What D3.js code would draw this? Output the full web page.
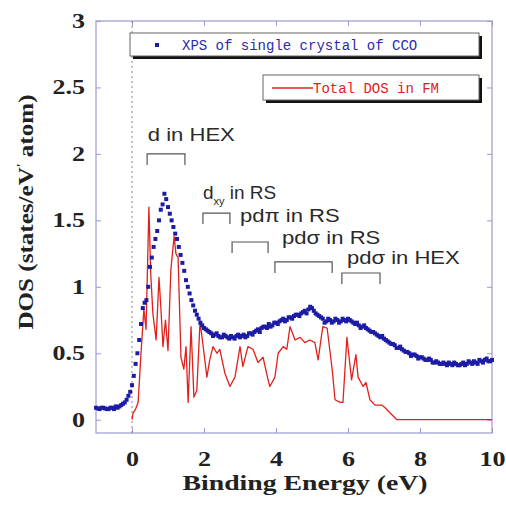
<!DOCTYPE html>
<html>
<head>
<meta charset="utf-8">
<script src="https://d3js.org/d3.v7.min.js"></script>
<style>
	body { margin: 0; background: white; }
	.axis text { font-family: "Liberation Serif", "Times New Roman", serif; font-weight: bold; font-size: 20px; fill: #222; }
	.axis line { stroke: #9a9ad0; }
	.axis path { display: none; }
	.anno { font-family: "Liberation Sans", Arial, sans-serif; font-size: 19px; fill: #2a2a2a; }
	.legend-text { font-family: "Liberation Mono", "Courier New", monospace; font-size: 14px; }
</style>
</head>
<body>
<script>
// XPS of single crystal of CCO: [binding energy (eV), DOS]
var xpsPoints = [
	[-1.0,0.09],[-0.9,0.08],[-0.8,0.09],[-0.7,0.08],[-0.6,0.09],[-0.5,0.08],[-0.4,0.09],[-0.3,0.11],[-0.2,0.13],[-0.1,0.18],
	[0.0,0.26],[0.1,0.42],[0.2,0.60],[0.3,0.84],[0.4,0.90],[0.5,1.15],[0.6,1.30],[0.7,1.42],[0.8,1.58],[0.9,1.70],
	[1.0,1.60],[1.1,1.50],[1.2,1.40],[1.3,1.30],[1.4,1.18],[1.5,1.05],[1.6,0.95],[1.7,0.86],[1.8,0.79],[1.9,0.73],
	[2.0,0.69],[2.1,0.67],[2.2,0.65],[2.3,0.64],[2.4,0.63],[2.5,0.62],[2.6,0.63],[2.7,0.61],[2.8,0.62],[2.9,0.63],
	[3.0,0.62],[3.1,0.64],[3.2,0.63],[3.3,0.65],[3.4,0.66],[3.5,0.68],[3.6,0.69],[3.7,0.70],[3.8,0.72],[3.9,0.71],
	[4.0,0.73],[4.1,0.74],[4.2,0.76],[4.3,0.75],[4.4,0.77],[4.5,0.78],[4.6,0.79],[4.7,0.80],[4.8,0.82],[4.9,0.83],
	[5.0,0.84],[5.1,0.80],[5.2,0.78],[5.3,0.76],[5.4,0.74],[5.5,0.75],[5.6,0.74],[5.7,0.75],[5.8,0.74],[5.9,0.75],
	[6.0,0.76],[6.1,0.74],[6.2,0.72],[6.3,0.71],[6.4,0.70],[6.5,0.69],[6.6,0.67],[6.7,0.66],[6.8,0.64],[6.9,0.62],
	[7.0,0.61],[7.1,0.59],[7.2,0.57],[7.3,0.56],[7.4,0.54],[7.5,0.53],[7.6,0.51],[7.7,0.50],[7.8,0.49],[7.9,0.48],
	[8.0,0.47],[8.1,0.46],[8.2,0.45],[8.3,0.45],[8.4,0.43],[8.5,0.43],[8.6,0.42],[8.7,0.42],[8.8,0.43],[8.9,0.41],
	[9.0,0.42],[9.1,0.41],[9.2,0.43],[9.3,0.42],[9.4,0.43],[9.5,0.44],[9.6,0.42],[9.7,0.44],[9.8,0.45],[9.9,0.44],
	[10.0,0.45]
];

// XPS points read between the ones above
var xpsPointsHalf = [
	[-0.95,0.085],[-0.85,0.09],[-0.75,0.085],[-0.65,0.08],[-0.55,0.09],[-0.45,0.10],[-0.35,0.10],[-0.25,0.12],[-0.15,0.15],[-0.05,0.21],
	[0.05,0.33],[0.15,0.50],[0.25,0.72],[0.35,0.88],[0.45,1.00],[0.55,1.22],[0.65,1.36],[0.75,1.50],[0.85,1.62],[0.95,1.66],
	[1.05,1.55],[1.15,1.45],[1.25,1.36],[1.35,1.24],[1.45,1.12],[1.55,1.00],[1.65,0.90],[1.75,0.82],[1.85,0.76],[1.95,0.71],
	[2.05,0.68],[2.15,0.66],[2.25,0.63],[2.35,0.65],[2.45,0.62],[2.55,0.64],[2.65,0.62],[2.75,0.63],[2.85,0.61],[2.95,0.64],
	[3.05,0.63],[3.15,0.62],[3.25,0.65],[3.35,0.64],[3.45,0.67],[3.55,0.66],[3.65,0.70],[3.75,0.69],[3.85,0.70],[3.95,0.73],
	[4.05,0.72],[4.15,0.75],[4.25,0.74],[4.35,0.77],[4.45,0.76],[4.55,0.79],[4.65,0.78],[4.75,0.81],[4.85,0.80],[4.95,0.85],
	[5.05,0.82],[5.15,0.79],[5.25,0.77],[5.35,0.73],[5.45,0.76],[5.55,0.73],[5.65,0.76],[5.75,0.73],[5.85,0.76],[5.95,0.74],
	[6.05,0.75],[6.15,0.73],[6.25,0.73],[6.35,0.69],[6.45,0.71],[6.55,0.68],[6.65,0.66],[6.75,0.65],[6.85,0.63],[6.95,0.63],
	[7.05,0.60],[7.15,0.58],[7.25,0.57],[7.35,0.54],[7.45,0.55],[7.55,0.52],[7.65,0.51],[7.75,0.48],[7.85,0.49],[7.95,0.46],
	[8.05,0.47],[8.15,0.45],[8.25,0.46],[8.35,0.43],[8.45,0.44],[8.55,0.42],[8.65,0.43],[8.75,0.41],[8.85,0.42],[8.95,0.43],
	[9.05,0.41],[9.15,0.42],[9.25,0.41],[9.35,0.44],[9.45,0.42],[9.55,0.43],[9.65,0.45],[9.75,0.43],[9.85,0.46],[9.95,0.44]
];

// Total DOS in FM: [binding energy (eV), DOS]
var dosPoints = [
	[0.0,0.0],[0.03,0.05],[0.10,0.08],[0.17,0.13],[0.25,0.5],[0.33,0.83],[0.39,0.68],[0.47,1.6],[0.52,1.1],[0.58,0.8],
	[0.67,0.6],[0.75,1.07],[0.80,0.85],[0.86,0.55],[0.93,0.75],[1.0,0.52],[1.08,1.13],[1.17,1.38],[1.22,1.25],[1.28,1.22],
	[1.36,0.47],[1.44,0.38],[1.50,0.55],[1.56,0.13],[1.64,0.7],[1.72,0.17],[1.80,0.22],[1.89,0.74],[2.0,0.5],[2.08,0.32],
	[2.16,0.45],[2.25,0.55],[2.36,0.5],[2.44,0.53],[2.58,0.35],[2.72,0.25],[2.86,0.32],[3.0,0.55],[3.08,0.4],[3.22,0.55],
	[3.36,0.53],[3.5,0.43],[3.64,0.47],[3.78,0.3],[3.83,0.25],[3.97,0.32],[4.06,0.5],[4.2,0.55],[4.3,0.53],[4.39,0.7],
	[4.53,0.6],[4.67,0.62],[4.8,0.58],[4.94,0.6],[5.08,0.58],[5.17,0.45],[5.3,0.7],[5.42,0.69],[5.56,0.38],[5.64,0.15],
	[5.78,0.13],[5.86,0.13],[5.97,0.62],[6.03,0.47],[6.1,0.3],[6.22,0.49],[6.28,0.32],[6.42,0.25],[6.5,0.28],[6.61,0.15],
	[6.75,0.11],[6.94,0.11],[7.03,0.09],[7.17,0.05],[7.36,0.0],[10.0,0.0]
];

var xTicks = [0, 2, 4, 6, 8, 10];
var yTicks = [0, 0.5, 1, 1.5, 2, 2.5, 3];

// bracket annotations (energies in eV, levels in DOS units)
var annoLabel = ["d in HEX", "d|xy| in RS", "pdπ in RS", "pdσ in RS", "pdσ in HEX"];
var annoFrom  = [0.42, 1.97, 2.78, 3.97, 5.83];
var annoTo    = [1.47, 2.72, 3.78, 5.56, 6.89];
var annoLevel = [2.0, 1.555, 1.337, 1.187, 1.104];
var annoTextE = [0.44, 1.97, 3.0, 4.17, 5.97];
var annoTextLevel = [2.10, 1.66, 1.49, 1.32, 1.17];

var legendLabels = ["XPS of single crystal of CCO", "Total DOS in FM"];

var width = 506, height = 506;
var plot = {left: 96, right: 492, top: 21, bottom: 433};

var svg = d3.select("body").append("svg")
	.attr("width", width)
	.attr("height", height);

var xScale = d3.scaleLinear().domain([-1, 10]).range([plot.left, plot.right]);
var yScale = d3.scaleLinear().domain([-0.1, 3]).range([plot.bottom, plot.top]);

// stretch text horizontally like the original
function stretch(sel, k) {
	sel.each(function() {
		var w = this.getComputedTextLength();
		d3.select(this).attr("textLength", w * k).attr("lengthAdjust", "spacingAndGlyphs");
	});
}

// axes with inward ticks
var xAxis = svg.append("g").attr("class", "axis")
	.attr("transform", "translate(0," + plot.bottom + ")")
	.call(d3.axisBottom(xScale).tickValues(xTicks).tickSizeInner(-5).tickSizeOuter(0).tickPadding(19).tickFormat(d3.format("d")));
svg.append("g").attr("class", "axis")
	.attr("transform", "translate(0," + plot.top + ")")
	.call(d3.axisTop(xScale).tickValues(xTicks).tickSizeInner(-5).tickSizeOuter(0).tickFormat(""));
var yAxis = svg.append("g").attr("class", "axis")
	.attr("transform", "translate(" + plot.left + ",0)")
	.call(d3.axisLeft(yScale).tickValues(yTicks).tickSizeInner(-5).tickSizeOuter(0).tickPadding(11).tickFormat(function(d){ return String(d); }));
svg.append("g").attr("class", "axis")
	.attr("transform", "translate(" + plot.right + ",0)")
	.call(d3.axisRight(yScale).tickValues(yTicks).tickSizeInner(-5).tickSizeOuter(0).tickFormat(""));

stretch(xAxis.selectAll("text"), 1.3);
stretch(yAxis.selectAll("text"), 1.3);

svg.append("rect")
	.attr("x", plot.left).attr("y", plot.top)
	.attr("width", plot.right - plot.left).attr("height", plot.bottom - plot.top)
	.attr("fill", "none").attr("stroke", "#9a9ad0").attr("stroke-width", 1.2);

// dotted line at E = 0
svg.append("line")
	.attr("x1", xScale(0)).attr("x2", xScale(0))
	.attr("y1", plot.top).attr("y2", plot.bottom)
	.attr("stroke", "#888").attr("stroke-width", 1)
	.attr("stroke-dasharray", "2,3");

// Total DOS line
var line = d3.line().x(function(d){ return xScale(d[0]); }).y(function(d){ return yScale(d[1]); });
svg.append("path")
	.datum(dosPoints)
	.attr("d", line)
	.attr("fill", "none")
	.attr("stroke", "#e0201c")
	.attr("stroke-width", 1.3)
	.attr("stroke-linejoin", "round");

// XPS points
svg.selectAll(".xps")
	.data(xpsPoints.concat(xpsPointsHalf))
	.enter()
	.append("rect")
	.attr("class", "xps")
	.attr("x", function(d){ return xScale(d[0]) - 2; })
	.attr("y", function(d){ return yScale(d[1]) - 2; })
	.attr("width", 4)
	.attr("height", 4)
	.attr("fill", "#1c1ca6");

// annotation brackets
annoLabel.forEach(function(label, i) {
	var x1 = xScale(annoFrom[i]), x2 = xScale(annoTo[i]), yt = yScale(annoLevel[i]);
	svg.append("path")
		.attr("d", "M" + x1 + "," + (yt + 11) + "L" + x1 + "," + yt + "L" + x2 + "," + yt + "L" + x2 + "," + (yt + 11))
		.attr("fill", "none")
		.attr("stroke", "#555")
		.attr("stroke-width", 1.2);

	var t = svg.append("text")
		.attr("class", "anno")
		.attr("x", xScale(annoTextE[i]))
		.attr("y", yScale(annoTextLevel[i]));
	var parts = label.split("|");
	if (parts.length > 1) {
		t.append("tspan").text(parts[0]);
		t.append("tspan").attr("dy", 6).style("font-size", "11px").text(parts[1]);
		t.append("tspan").attr("dy", -6).text(parts[2]);
	} else {
		t.text(label);
		stretch(t, 1.16);
	}
});

// legend boxes
function legendBox(x, y, w, h) {
	svg.append("rect").attr("x", x + 3).attr("y", y + 3).attr("width", w).attr("height", h).attr("fill", "#111");
	svg.append("rect").attr("x", x).attr("y", y).attr("width", w).attr("height", h)
		.attr("fill", "white").attr("stroke", "#666").attr("stroke-width", 1);
}
legendBox(130, 33, 349, 23);
svg.append("rect").attr("x", 155).attr("y", 43).attr("width", 4).attr("height", 4).attr("fill", "#1c1ca6");
svg.append("text").attr("class", "legend-text")
	.attr("x", 182).attr("y", 49.5)
	.attr("fill", "#2a2ab0")
	.text(legendLabels[0]);

legendBox(263, 75, 216, 25);
svg.append("line").attr("x1", 272).attr("x2", 313).attr("y1", 88).attr("y2", 88)
	.attr("stroke", "#e0201c").attr("stroke-width", 1.3);
svg.append("text").attr("class", "legend-text")
	.attr("x", 313).attr("y", 92.5)
	.attr("fill", "#e0201c")
	.text(legendLabels[1]);

// axis titles
var xt = svg.append("text")
	.attr("x", 305).attr("y", 490)
	.attr("text-anchor", "middle")
	.style("font-family", "'Liberation Serif', 'Times New Roman', serif")
	.style("font-weight", "bold").style("font-size", "22px").style("fill", "#222")
	.text("Binding Energy (eV)");
xt.attr("textLength", 245).attr("lengthAdjust", "spacingAndGlyphs");

var yt = svg.append("text")
	.attr("transform", "translate(33,212) rotate(-90)")
	.attr("text-anchor", "middle")
	.style("font-family", "'Liberation Serif', 'Times New Roman', serif")
	.style("font-weight", "bold").style("font-size", "22px").style("fill", "#222");
yt.append("tspan").text("DOS (states/eV");
yt.append("tspan").attr("dy", -8).style("font-size", "12px").text("'");
yt.append("tspan").attr("dy", 8).text(" atom)");
yt.attr("textLength", 235).attr("lengthAdjust", "spacingAndGlyphs");
</script>
</body>
</html>
